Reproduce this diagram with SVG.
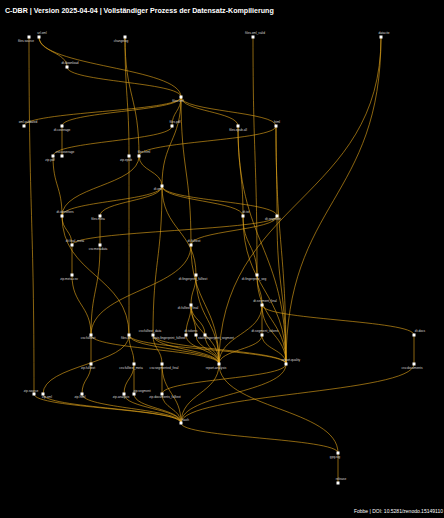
<svg xmlns="http://www.w3.org/2000/svg" width="444" height="518" viewBox="0 0 444 518">
<style>
.e{fill:none;stroke:#e0a31a;stroke-opacity:0.78;stroke-width:0.8}
.node rect{fill:#ffffff}
.node text{font-family:"Liberation Sans",Arial,sans-serif;font-size:3.2px;fill:#d8d8d8;text-anchor:middle}
.t{font-family:"Liberation Sans",Arial,sans-serif;fill:#ffffff}
</style>
<rect x="0" y="0" width="444" height="518" fill="#000000"/>
<text class="t" x="5" y="12.7" font-size="7.1" font-weight="bold">C-DBR | Version 2025-04-04 | Vollständiger Prozess der Datensatz-Kompilierung</text>
<g id="edges">
<path class="e" d="M29 37C29 215.5 34 215.5 34 394"/>
<path class="e" d="M39 37C39 52 67 52 67 67"/>
<path class="e" d="M39 37C39 67 181 67 181 97"/>
<path class="e" d="M67 67C67 82 181 82 181 97"/>
<path class="e" d="M125 37C125 96.5 129 96.5 129 156"/>
<path class="e" d="M125 37C125 96.5 139 96.5 139 156"/>
<path class="e" d="M253 37C253 156 257 156 257 275"/>
<path class="e" d="M381 37C381 200.5 219 200.5 219 364"/>
<path class="e" d="M381 37C381 200.5 286 200.5 286 364"/>
<path class="e" d="M181 97C181 111.5 24 111.5 24 126"/>
<path class="e" d="M181 97C181 111.5 62 111.5 62 126"/>
<path class="e" d="M181 97C181 111.5 172 111.5 172 126"/>
<path class="e" d="M181 97C181 111.5 238 111.5 238 126"/>
<path class="e" d="M181 97C181 111.5 276 111.5 276 126"/>
<path class="e" d="M181 97C181 141.5 162 141.5 162 186"/>
<path class="e" d="M181 97C181 171 191 171 191 245"/>
<path class="e" d="M62 126L62 156"/>
<path class="e" d="M172 126C172 141 53 141 53 156"/>
<path class="e" d="M238 126C238 171 243 171 243 216"/>
<path class="e" d="M276 126C276 171 277 171 277 216"/>
<path class="e" d="M276 126C276 141 139 141 139 156"/>
<path class="e" d="M238 126C238 245 286 245 286 364"/>
<path class="e" d="M276 126C276 245 286 245 286 364"/>
<path class="e" d="M53 156C53 186 62 186 62 216"/>
<path class="e" d="M129 156C129 245.5 129 245.5 129 335"/>
<path class="e" d="M139 156C139 186 62 186 62 216"/>
<path class="e" d="M139 156C139 171 162 171 162 186"/>
<path class="e" d="M162 186C162 201 62 201 62 216"/>
<path class="e" d="M162 186C162 201 100 201 100 216"/>
<path class="e" d="M162 186C162 201 243 201 243 216"/>
<path class="e" d="M162 186C162 201 277 201 277 216"/>
<path class="e" d="M162 186C162 230.5 196 230.5 196 275"/>
<path class="e" d="M162 186C162 260.5 153 260.5 153 335"/>
<path class="e" d="M100 216L100 245"/>
<path class="e" d="M62 216C62 230.5 72 230.5 72 245"/>
<path class="e" d="M62 216C62 275.5 129 275.5 129 335"/>
<path class="e" d="M72 245L72 275"/>
<path class="e" d="M277 216C277 230.5 72 230.5 72 245"/>
<path class="e" d="M277 216C277 230.5 191 230.5 191 245"/>
<path class="e" d="M277 216C277 290 286 290 286 364"/>
<path class="e" d="M243 216C243 245.5 257 245.5 257 275"/>
<path class="e" d="M243 216C243 290 286 290 286 364"/>
<path class="e" d="M191 245C191 304.5 219 304.5 219 364"/>
<path class="e" d="M191 245C191 290 91 290 91 335"/>
<path class="e" d="M72 275C72 305 91 305 91 335"/>
<path class="e" d="M100 245C100 290 91 290 91 335"/>
<path class="e" d="M91 335L91 364"/>
<path class="e" d="M91 335C91 349.5 219 349.5 219 364"/>
<path class="e" d="M129 335C129 349.5 134 349.5 134 364"/>
<path class="e" d="M129 335C129 364.5 43 364.5 43 394"/>
<path class="e" d="M129 335C129 349.5 219 349.5 219 364"/>
<path class="e" d="M129 335C129 349.5 286 349.5 286 364"/>
<path class="e" d="M91 364C91 379 82 379 82 394"/>
<path class="e" d="M134 364C134 379 124 379 124 394"/>
<path class="e" d="M134 364L134 394"/>
<path class="e" d="M196 275C196 290 191 290 191 305"/>
<path class="e" d="M196 275C196 319.5 219 319.5 219 364"/>
<path class="e" d="M257 275C257 290 262 290 262 305"/>
<path class="e" d="M257 275C257 319.5 286 319.5 286 364"/>
<path class="e" d="M191 305C191 320 186 320 186 335"/>
<path class="e" d="M191 305C191 320 196 320 196 335"/>
<path class="e" d="M191 305C191 320 205 320 205 335"/>
<path class="e" d="M191 305C191 334.5 219 334.5 219 364"/>
<path class="e" d="M262 305L262 335"/>
<path class="e" d="M262 305C262 334.5 219 334.5 219 364"/>
<path class="e" d="M262 305C262 334.5 286 334.5 286 364"/>
<path class="e" d="M262 305C262 320 414 320 414 335"/>
<path class="e" d="M153 335C153 349.5 162 349.5 162 364"/>
<path class="e" d="M153 335C153 349.5 219 349.5 219 364"/>
<path class="e" d="M153 335C153 349.5 286 349.5 286 364"/>
<path class="e" d="M186 335C186 349.5 219 349.5 219 364"/>
<path class="e" d="M196 335C196 349.5 219 349.5 219 364"/>
<path class="e" d="M205 335C205 349.5 219 349.5 219 364"/>
<path class="e" d="M262 335C262 349.5 219 349.5 219 364"/>
<path class="e" d="M262 335C262 349.5 286 349.5 286 364"/>
<path class="e" d="M162 364L162 394"/>
<path class="e" d="M162 364C162 393.5 181 393.5 181 423"/>
<path class="e" d="M414 335L414 364"/>
<path class="e" d="M414 364C414 393.5 181 393.5 181 423"/>
<path class="e" d="M219 364C219 393.5 181 393.5 181 423"/>
<path class="e" d="M219 364C219 408.5 338 408.5 338 453"/>
<path class="e" d="M286 364C286 393.5 181 393.5 181 423"/>
<path class="e" d="M286 364C286 379 162 379 162 394"/>
<path class="e" d="M34 394C34 408.5 181 408.5 181 423"/>
<path class="e" d="M43 394C43 408.5 181 408.5 181 423"/>
<path class="e" d="M82 394C82 408.5 181 408.5 181 423"/>
<path class="e" d="M124 394C124 408.5 181 408.5 181 423"/>
<path class="e" d="M134 394C134 408.5 181 408.5 181 423"/>
<path class="e" d="M162 394C162 408.5 181 408.5 181 423"/>
<path class="e" d="M181 423C181 438 338 438 338 453"/>
<path class="e" d="M338 453L338 483"/>
</g>
<g id="n1" class="node"><rect x="27.5" y="35.5" width="3" height="3"/><text x="26" y="42">files.source</text></g>
<g id="n2" class="node"><rect x="37.5" y="35.5" width="3" height="3"/><text x="42" y="33.5">url.xml</text></g>
<g id="n3" class="node"><rect x="123.5" y="35.5" width="3" height="3"/><text x="121" y="42">changelog</text></g>
<g id="n4" class="node"><rect x="65.5" y="65.5" width="3" height="3"/><text x="70" y="63.5">dt.download</text></g>
<g id="n5" class="node"><rect x="251.5" y="35.5" width="3" height="3"/><text x="255" y="33.5">files.xml_valid</text></g>
<g id="n6" class="node"><rect x="379.5" y="35.5" width="3" height="3"/><text x="384" y="33.5">datacite</text></g>
<g id="n7" class="node"><rect x="179.5" y="95.5" width="3" height="3"/><text x="178" y="101.5">files.xml</text></g>
<g id="n8" class="node"><rect x="22.5" y="124.5" width="3" height="3"/><text x="28" y="123">xml.validated</text></g>
<g id="n9" class="node"><rect x="60.5" y="124.5" width="3" height="3"/><text x="62" y="130.5">dt.coverage</text></g>
<g id="n10" class="node"><rect x="170.5" y="124.5" width="3" height="3"/><text x="175" y="123">files.pdf</text></g>
<g id="n11" class="node"><rect x="236.5" y="124.5" width="3" height="3"/><text x="238" y="130.5">files.epub.all</text></g>
<g id="n12" class="node"><rect x="274.5" y="124.5" width="3" height="3"/><text x="277" y="123">html</text></g>
<g id="n13" class="node"><rect x="51.5" y="154.5" width="3" height="3"/><text x="50" y="160.5">zip.pdf</text></g>
<g id="n14" class="node"><rect x="60.5" y="154.5" width="3" height="3"/><text x="65" y="153">csv.coverage</text></g>
<g id="n15" class="node"><rect x="127.5" y="154.5" width="3" height="3"/><text x="126" y="160.5">zip.epub</text></g>
<g id="n16" class="node"><rect x="137.5" y="154.5" width="3" height="3"/><text x="144" y="153">files.html</text></g>
<g id="n17" class="node"><rect x="60.5" y="214.5" width="3" height="3"/><text x="65" y="212.5">dt.identifiers</text></g>
<g id="n18" class="node"><rect x="98.5" y="214.5" width="3" height="3"/><text x="98" y="220">files.meta</text></g>
<g id="n19" class="node"><rect x="70.5" y="243.5" width="3" height="3"/><text x="75" y="242">dt.final_meta</text></g>
<g id="n20" class="node"><rect x="98.5" y="243.5" width="3" height="3"/><text x="98" y="249.5">csv.metadata</text></g>
<g id="n21" class="node"><rect x="160.5" y="184.5" width="3" height="3"/><text x="158" y="190">dt.xml</text></g>
<g id="n22" class="node"><rect x="241.5" y="214.5" width="3" height="3"/><text x="246" y="212.5">dt.txt</text></g>
<g id="n23" class="node"><rect x="275.5" y="214.5" width="3" height="3"/><text x="273" y="220">dt.segment</text></g>
<g id="n24" class="node"><rect x="189.5" y="243.5" width="3" height="3"/><text x="194" y="242">dt.fulltext</text></g>
<g id="n25" class="node"><rect x="70.5" y="273.5" width="3" height="3"/><text x="69" y="279.5">zip.meta.csv</text></g>
<g id="n26" class="node"><rect x="89.5" y="333.5" width="3" height="3"/><text x="88" y="339">csv.fulltext</text></g>
<g id="n27" class="node"><rect x="127.5" y="333.5" width="3" height="3"/><text x="126" y="339">files.txt</text></g>
<g id="n28" class="node"><rect x="89.5" y="362.5" width="3" height="3"/><text x="88" y="368.5">zip.fulltext</text></g>
<g id="n29" class="node"><rect x="132.5" y="362.5" width="3" height="3"/><text x="131" y="368.5">csv.fulltext_meta</text></g>
<g id="n30" class="node"><rect x="194.5" y="273.5" width="3" height="3"/><text x="193" y="279.5">dt.fingerprint_fulltext</text></g>
<g id="n31" class="node"><rect x="255.5" y="273.5" width="3" height="3"/><text x="254" y="279.5">dt.fingerprint_seg</text></g>
<g id="n32" class="node"><rect x="189.5" y="303.5" width="3" height="3"/><text x="188" y="309">dt.fulltext_final</text></g>
<g id="n33" class="node"><rect x="260.5" y="303.5" width="3" height="3"/><text x="265" y="302">dt.segment_final</text></g>
<g id="n34" class="node"><rect x="151.5" y="333.5" width="3" height="3"/><text x="150" y="332">csv.fulltext_data</text></g>
<g id="n35" class="node"><rect x="184.5" y="333.5" width="3" height="3"/><text x="191" y="332">dt.tokens</text></g>
<g id="n36" class="node"><rect x="194.5" y="333.5" width="3" height="3"/><text x="169" y="339">stats.fingerprint_fulltext</text></g>
<g id="n37" class="node"><rect x="203.5" y="333.5" width="3" height="3"/><text x="216" y="339">stats.fingerprint_segment</text></g>
<g id="n38" class="node"><rect x="260.5" y="333.5" width="3" height="3"/><text x="265" y="332">dt.segment_tokens</text></g>
<g id="n39" class="node"><rect x="160.5" y="362.5" width="3" height="3"/><text x="164" y="368.5">csv.segmented_final</text></g>
<g id="n40" class="node"><rect x="217.5" y="362.5" width="3" height="3"/><text x="216" y="368.5">report.analysis</text></g>
<g id="n41" class="node"><rect x="284.5" y="362.5" width="3" height="3"/><text x="291" y="361">report.quality</text></g>
<g id="n42" class="node"><rect x="412.5" y="333.5" width="3" height="3"/><text x="420" y="332">dt.docs</text></g>
<g id="n43" class="node"><rect x="412.5" y="362.5" width="3" height="3"/><text x="412" y="368.5">csv.documents</text></g>
<g id="n44" class="node"><rect x="32.5" y="392.5" width="3" height="3"/><text x="31" y="391.5">zip.source</text></g>
<g id="n45" class="node"><rect x="41.5" y="392.5" width="3" height="3"/><text x="47" y="398">zip.xml</text></g>
<g id="n46" class="node"><rect x="80.5" y="392.5" width="3" height="3"/><text x="80" y="398">zip.html</text></g>
<g id="n47" class="node"><rect x="122.5" y="392.5" width="3" height="3"/><text x="121" y="398">zip.analysis</text></g>
<g id="n48" class="node"><rect x="132.5" y="392.5" width="3" height="3"/><text x="142" y="391.5">zip.segment</text></g>
<g id="n49" class="node"><rect x="160.5" y="392.5" width="3" height="3"/><text x="165" y="398">zip.documents_fulltext</text></g>
<g id="n50" class="node"><rect x="179.5" y="421.5" width="3" height="3"/><text x="182" y="420.5" style="text-anchor:start">hash</text></g>
<g id="n51" class="node"><rect x="336.5" y="451.5" width="3" height="3"/><text x="335" y="457.5">gpg.sig</text></g>
<g id="n52" class="node"><rect x="336.5" y="481.5" width="3" height="3"/><text x="341" y="480">release</text></g>
<text class="t" x="443" y="512.5" font-size="5" text-anchor="end">Fobbe | DOI: 10.5281/zenodo.15149110</text>
</svg>
